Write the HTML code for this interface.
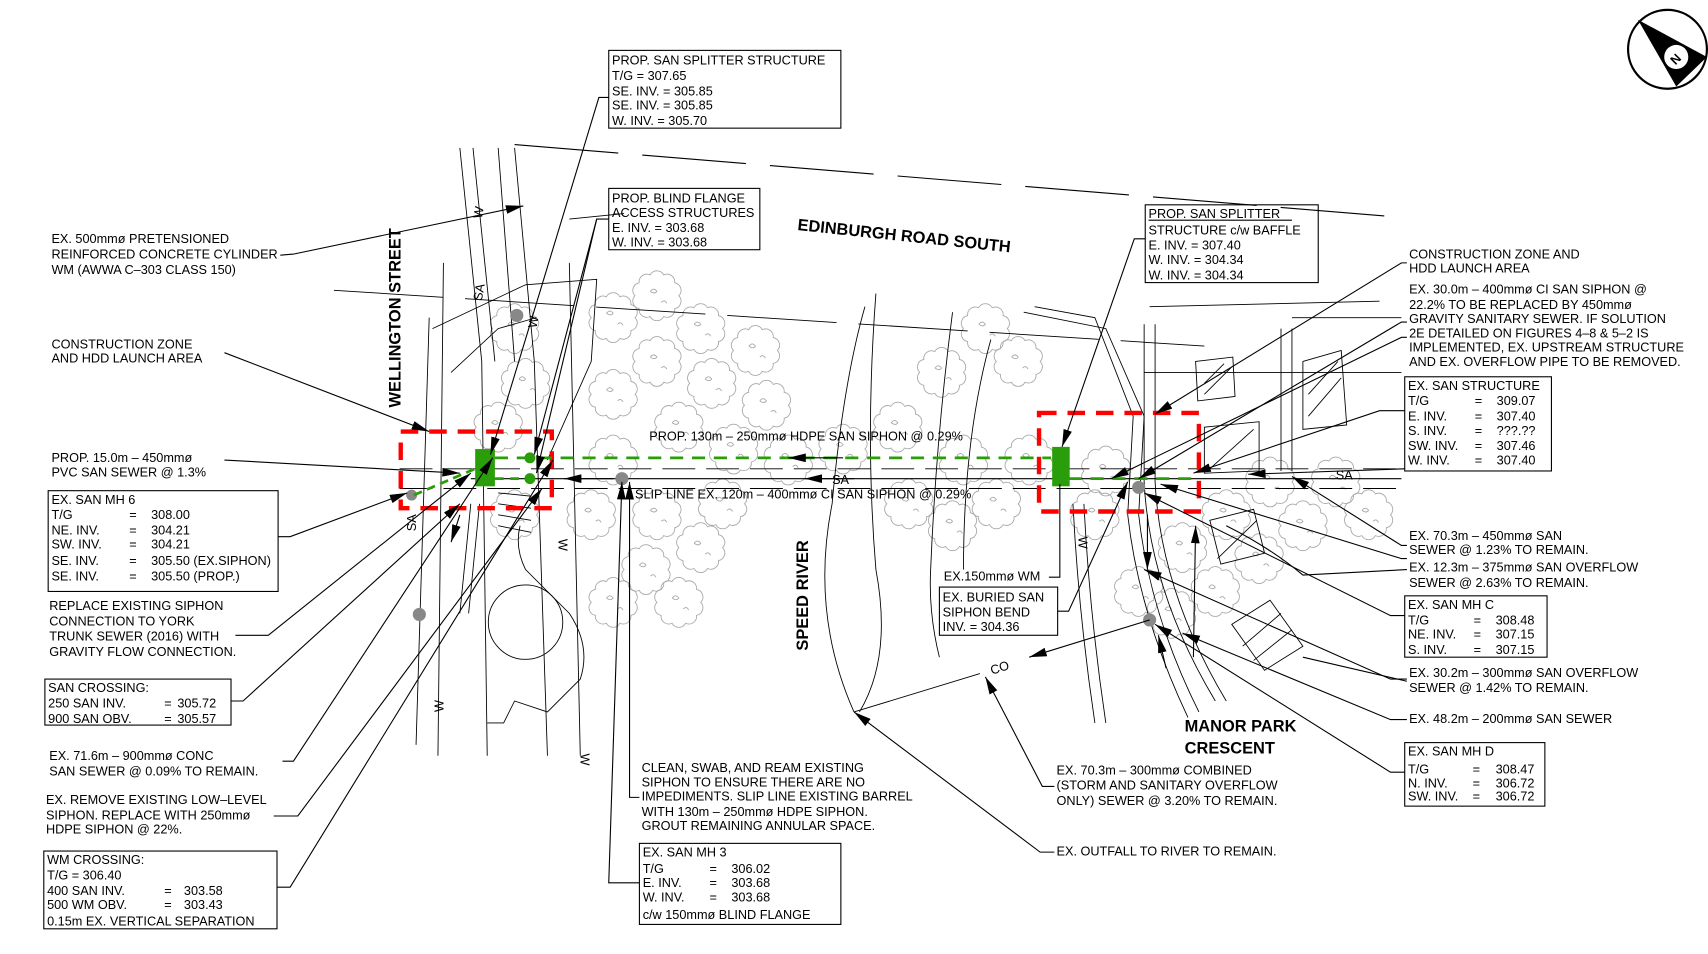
<!DOCTYPE html>
<html><head><meta charset="utf-8"><style>
html,body{margin:0;padding:0;background:#fff;}
svg{display:block;}
text{font-family:"Liberation Sans",sans-serif;font-size:11.6px;fill:#000;}
.b{font-weight:bold;font-size:15px;}
.t{fill:none;stroke:#a8a8a8;stroke-width:0.8;}
.l{fill:none;stroke:#000;stroke-width:1;}
.g{fill:none;stroke:#000;stroke-width:0.8;}
</style></head><body>
<svg width="1708" height="954" viewBox="0 0 1560 871" preserveAspectRatio="none" xmlns="http://www.w3.org/2000/svg">
<defs>
<marker id="a" viewBox="0 0 16 8" refX="16" refY="4" markerWidth="16" markerHeight="8" markerUnits="userSpaceOnUse" orient="auto"><path d="M0,0 L16,4 L0,8 Z" fill="#000"/></marker>
<g id="tr" class="t"><path d="M20,0 A7,7 0 0 1 16.2,11.8 A7,7 0 0 1 6.2,19 A7,7 0 0 1 -6.2,19 A7,7 0 0 1 -16.2,11.8 A7,7 0 0 1 -20,0 A7,7 0 0 1 -16.2,-11.8 A7,7 0 0 1 -6.2,-19 A7,7 0 0 1 6.2,-19 A7,7 0 0 1 16.2,-11.8 A7,7 0 0 1 20,0 Z"/><path d="M-6,-4 q3,-4 6,0 q-2,3 -6,0 M4,6 q3,-3 5,1"/></g>
</defs>
<rect width="1560" height="871" fill="#fff"/>

<!-- trees -->
<g>
<use href="#tr" x="470" y="300"/><use href="#tr" x="480" y="350"/><use href="#tr" x="455" y="390"/>
<use href="#tr" x="560" y="290"/><use href="#tr" x="600" y="270"/><use href="#tr" x="640" y="300"/><use href="#tr" x="600" y="330"/>
<use href="#tr" x="560" y="360"/><use href="#tr" x="650" y="350"/><use href="#tr" x="690" y="320"/><use href="#tr" x="700" y="370"/>
<use href="#tr" x="620" y="390"/><use href="#tr" x="670" y="410"/><use href="#tr" x="560" y="420"/><use href="#tr" x="540" y="470"/>
<use href="#tr" x="600" y="470"/><use href="#tr" x="640" y="500"/><use href="#tr" x="590" y="520"/><use href="#tr" x="620" y="550"/>
<use href="#tr" x="560" y="550"/><use href="#tr" x="660" y="460"/><use href="#tr" x="720" y="420"/><use href="#tr" x="770" y="410"/>
<use href="#tr" x="820" y="390"/><use href="#tr" x="860" y="340"/><use href="#tr" x="900" y="300"/><use href="#tr" x="930" y="330"/>
<use href="#tr" x="880" y="420"/><use href="#tr" x="830" y="460"/><use href="#tr" x="870" y="480"/><use href="#tr" x="910" y="460"/>
<use href="#tr" x="940" y="420"/><use href="#tr" x="1010" y="430"/><use href="#tr" x="1000" y="470"/>
<use href="#tr" x="1120" y="470"/><use href="#tr" x="1160" y="440"/><use href="#tr" x="1190" y="480"/><use href="#tr" x="1220" y="440"/>
<use href="#tr" x="1250" y="470"/><use href="#tr" x="1150" y="510"/><use href="#tr" x="1080" y="500"/><use href="#tr" x="1070" y="560"/>
<use href="#tr" x="1040" y="540"/><use href="#tr" x="470" y="470"/><use href="#tr" x="1110" y="540"/>
</g>

<!-- road dashed edges -->
<path class="l" d="M470,132 L1275,198" stroke-dasharray="95,22"/>
<path class="g" d="M305,265 L1100,316" stroke-dasharray="100,20"/>
<!-- river banks -->
<path class="g" d="M790,280 Q770,350 760,460 Q740,560 780,650"/>
<path class="g" d="M800,268 Q790,400 800,520 Q815,600 785,650"/>
<path class="g" d="M870,285 Q855,400 850,520 Q848,560 858,600"/>
<path class="g" d="M905,310 Q880,400 880,520"/>
<!-- east curb lines -->
<path class="g" d="M935,285 L1010,300 L1045,380 L1040,470 Q1050,560 1095,650"/>
<path class="g" d="M945,280 L1000,290 L1035,380 L1030,470 Q1040,560 1085,655"/>
<path class="g" d="M1050,280 L1260,275"/>
<path class="g" d="M1045,296 L1045,440 Q1050,540 1110,640"/>
<path class="g" d="M1055,296 L1055,440 Q1060,540 1120,640"/>
<path class="g" d="M980,460 Q985,560 1000,660"/>
<path class="g" d="M990,460 Q995,560 1010,660"/>
<path class="g" d="M1045,340 L1280,340"/>
<path class="g" d="M1170,300 L1170,430"/><path class="g" d="M1180,300 L1180,430"/>
<path class="g" d="M1180,290 L1280,290"/>
<!-- hatched buildings -->
<g class="g"><path d="M1092,330 L1126,326 L1128,362 L1094,366 Z"/><path d="M1190,330 L1225,320 L1230,388 L1190,392 Z"/><path d="M1100,390 L1150,385 L1150,430 L1100,432 Z"/><path d="M1105,475 L1145,465 L1155,505 L1115,515 Z"/><path d="M1125,570 L1160,548 L1190,590 L1155,612 Z"/>
<path d="M1100,360 L1125,335 M1100,350 L1118,332 M1195,380 L1225,345 M1195,360 L1222,330 M1105,428 L1145,392 M1112,510 L1148,475 M1135,590 L1170,560 M1145,603 L1180,575"/></g>

<!-- west road lines -->
<g class="g">
<path d="M420,135 L440,330 L445,690"/><path d="M432,135 L452,330"/>
<path d="M455,135 L470,330"/><path d="M470,135 L488,330 L500,690"/>
<path d="M392,290 L380,680"/><path d="M405,240 L400,690"/>
<path d="M520,240 L530,690"/>
<path d="M395,300 L480,260 L545,255 L540,330 L500,420"/>
<path d="M412,340 L455,300 L490,290"/>
<path d="M475,480 Q470,500 480,520 L520,560 Q540,590 530,620 L500,650 L470,640 L460,660 L445,660"/>
<circle cx="480" cy="568" r="34"/>
<path d="M430,460 L420,560 M438,460 L428,560"/>
<path d="M455,450 L485,453 M455,460 L485,464 M455,470 L485,475 M455,480 L485,486"/>
<path d="M520,200 L570,195"/>
</g>
<path class="l" d="M268,232 L478,188" marker-end="url(#a)"/>

<!-- sewer lines -->
<path class="g" d="M365,428 L1280,428" stroke-dasharray="30,10"/>
<path class="l" d="M430,437 L1280,437"/>
<path class="g" d="M365,446 L1280,446" stroke-dasharray="30,10"/>
<text x="760" y="442" font-size="12">SA</text>
<text x="1220" y="438" font-size="12">SA</text>
<text x="440" y="200" transform="rotate(-80 440 200)" font-size="11">W</text>
<text x="490" y="300" transform="rotate(-80 490 300)" font-size="11">W</text>
<text x="440" y="275" transform="rotate(-80 440 275)" font-size="11">SA</text>
<text x="510" y="492" transform="rotate(90 510 492)" font-size="11">W</text>
<text x="530" y="688" transform="rotate(90 530 688)" font-size="11">W</text>
<text x="405" y="650" transform="rotate(-90 405 650)" font-size="11">W</text>
<text x="985" y="490" transform="rotate(90 985 490)" font-size="11">W</text>
<text x="380" y="485" transform="rotate(-90 380 485)" font-size="11">SA</text>

<!-- gray MH dots -->
<g fill="#888"><circle cx="472" cy="288" r="6"/><circle cx="568" cy="437" r="6"/><circle cx="383" cy="561" r="6"/><circle cx="376" cy="452" r="5"/><circle cx="1040" cy="445" r="6"/><circle cx="1050" cy="566" r="6"/></g>

<!-- red dashed zones -->
<rect x="366" y="394" width="138" height="70" fill="none" stroke="#f00" stroke-width="4" stroke-dasharray="16,10"/>
<rect x="949" y="377" width="146" height="90" fill="none" stroke="#f00" stroke-width="4" stroke-dasharray="16,10"/>

<!-- green -->
<path d="M452,418 L960,418" stroke="#2a9d0a" stroke-width="2.5" stroke-dasharray="12,8" fill="none"/>
<path d="M452,437 L484,437" stroke="#2a9d0a" stroke-width="2.5" stroke-dasharray="8,6" fill="none"/>
<path d="M378,452 L434,428" stroke="#2a9d0a" stroke-width="2.5" stroke-dasharray="8,5" fill="none"/>
<path d="M976,437 L1090,437" stroke="#2a9d0a" stroke-width="2.5" stroke-dasharray="12,8" fill="none"/>
<rect x="434" y="410" width="18" height="34" fill="#2a9d0a"/>
<rect x="961" y="408" width="16" height="36" fill="#2a9d0a"/>
<circle cx="484" cy="418" r="5" fill="#2a9d0a"/><circle cx="484" cy="437" r="5" fill="#2a9d0a"/>
<path class="l" d="M770,418 L720,418" marker-end="url(#a)"/>
<path class="l" d="M560,437 L515,437" marker-end="url(#a)"/>
<path class="l" d="M780,437 L735,437" marker-end="url(#a)"/>

<!-- compass -->
<circle cx="1523" cy="45" r="36" fill="#fff" stroke="#000" stroke-width="2"/>
<path d="M1496,18 L1559,52 L1531,79 Z" fill="#000"/>
<circle cx="1531" cy="52" r="11" fill="#fff"/>
<text x="1525" y="57" font-weight="bold" font-size="13" transform="rotate(-45 1531 52)">N</text>

<!-- Labels -->
<text class="b" x="728" y="210" transform="rotate(6 728 210)">EDINBURGH ROAD SOUTH</text>
<text class="b" x="366" y="372" transform="rotate(-90 366 372)">WELLINGTON STREET</text>
<text class="b" x="738" y="594" transform="rotate(-90 738 594)">SPEED RIVER</text>
<text class="b" x="1082" y="668">MANOR PARK</text>
<text class="b" x="1082" y="688">CRESCENT</text>
<text x="906" y="616" transform="rotate(-18 906 616)">CO</text>
<text x="593" y="402">PROP. 130m – 250mmø HDPE SAN SIPHON @ 0.29%</text>
<text x="580" y="455">SLIP LINE EX. 120m – 400mmø CI SAN SIPHON @ 0.29%</text>

<!-- top box -->
<rect x="556" y="46" width="212" height="71" class="l"/>
<text x="559" y="59">PROP. SAN SPLITTER STRUCTURE</text>
<text x="559" y="73">T/G = 307.65</text><text x="559" y="87">SE. INV. = 305.85</text>
<text x="559" y="100">SE. INV. = 305.85</text><text x="559" y="114">W. INV. = 305.70</text>
<path class="l" d="M556,89 L547,89 L448,415" marker-end="url(#a)"/>

<rect x="556" y="172" width="138" height="56" class="l"/>
<text x="559" y="185">PROP. BLIND FLANGE</text><text x="559" y="198">ACCESS STRUCTURES</text>
<text x="559" y="212">E. INV. = 303.68</text><text x="559" y="225">W. INV. = 303.68</text>
<path class="l" d="M556,200 L545,200 L488,415" marker-end="url(#a)"/>
<path class="l" d="M545,200 L490,432" marker-end="url(#a)"/>

<rect x="1046" y="187" width="158" height="71" class="l"/>
<text x="1049" y="199">PROP. SAN SPLITTER</text><path class="l" d="M1049,201 L1180,201"/>
<text x="1049" y="214">STRUCTURE c/w BAFFLE</text>
<text x="1049" y="228">E. INV. = 307.40</text><text x="1049" y="241">W. INV. = 304.34</text><text x="1049" y="255">W. INV. = 304.34</text>
<path class="l" d="M1046,218 L1036,218 L970,408" marker-end="url(#a)"/>

<!-- right column -->
<text x="1287" y="236">CONSTRUCTION ZONE AND</text><text x="1287" y="249">HDD LAUNCH AREA</text>
<path class="l" d="M1285,240 L1280,240 L1055,378" marker-end="url(#a)"/>
<text x="1287" y="268">EX. 30.0m – 400mmø CI SAN SIPHON @</text>
<text x="1287" y="282">22.2% TO BE REPLACED BY 450mmø</text>
<text x="1287" y="295">GRAVITY SANITARY SEWER. IF SOLUTION</text>
<text x="1287" y="308">2E DETAILED ON FIGURES 4–8 &amp; 5–2 IS</text>
<text x="1287" y="321">IMPLEMENTED, EX. UPSTREAM STRUCTURE</text>
<text x="1287" y="334">AND EX. OVERFLOW PIPE TO BE REMOVED.</text>
<path class="l" d="M1285,294 L1280,294 L1040,437" marker-end="url(#a)"/>
<path class="l" d="M1285,308 L1280,308 L1015,437" marker-end="url(#a)"/>

<rect x="1283" y="344" width="134" height="86" class="l"/>
<text x="1286" y="356">EX. SAN STRUCTURE</text>
<text x="1286" y="370">T/G</text><text x="1347" y="370">=</text><text x="1367" y="370">309.07</text>
<text x="1286" y="384">E. INV.</text><text x="1347" y="384">=</text><text x="1367" y="384">307.40</text>
<text x="1286" y="397">S. INV.</text><text x="1347" y="397">=</text><text x="1367" y="397">???.??</text>
<text x="1286" y="411">SW. INV.</text><text x="1347" y="411">=</text><text x="1367" y="411">307.46</text>
<text x="1286" y="424">W. INV.</text><text x="1347" y="424">=</text><text x="1367" y="424">307.40</text>
<path class="l" d="M1283,375 L1260,375 L1090,432" marker-end="url(#a)"/>
<path class="l" d="M1283,428 L1140,433" marker-end="url(#a)"/>

<text x="1287" y="493">EX.  70.3m – 450mmø SAN</text><text x="1287" y="506">SEWER @ 1.23% TO REMAIN.</text>
<path class="l" d="M1285,498 L1280,498 L1180,435" marker-end="url(#a)"/>
<text x="1287" y="522">EX. 12.3m – 375mmø SAN OVERFLOW</text><text x="1287" y="536">SEWER @ 2.63% TO REMAIN.</text>
<path class="l" d="M1285,510 L1280,510 L1060,442" marker-end="url(#a)"/>
<path class="l" d="M1285,520 L1190,525 Q1160,500 1120,480"/>

<rect x="1283" y="544" width="130" height="56" class="l"/>
<text x="1286" y="556">EX. SAN MH C</text>
<text x="1286" y="570">T/G</text><text x="1346" y="570">=</text><text x="1366" y="570">308.48</text>
<text x="1286" y="583">NE. INV.</text><text x="1346" y="583">=</text><text x="1366" y="583">307.15</text>
<text x="1286" y="597">S. INV.</text><text x="1346" y="597">=</text><text x="1366" y="597">307.15</text>
<path class="l" d="M1283,562 L1270,562 L1045,450" marker-end="url(#a)"/>

<text x="1287" y="618">EX. 30.2m – 300mmø SAN OVERFLOW</text><text x="1287" y="632">SEWER @ 1.42% TO REMAIN.</text>
<path class="l" d="M1285,620 L1270,620 L1045,520" marker-end="url(#a)"/>
<path class="l" d="M1285,622 L1190,600"/>
<text x="1287" y="660">EX. 48.2m – 200mmø SAN SEWER</text>
<path class="l" d="M1285,657 L1270,657 L1080,578" marker-end="url(#a)"/>

<rect x="1283" y="678" width="128" height="58" class="l"/>
<text x="1286" y="690">EX. SAN MH D</text>
<text x="1286" y="706">T/G</text><text x="1345" y="706">=</text><text x="1366" y="706">308.47</text>
<text x="1286" y="719">N. INV.</text><text x="1345" y="719">=</text><text x="1366" y="719">306.72</text>
<text x="1286" y="731">SW. INV.</text><text x="1345" y="731">=</text><text x="1366" y="731">306.72</text>
<path class="l" d="M1283,705 L1270,705 L1055,570" marker-end="url(#a)"/>
<path class="l" d="M1048,470 L1048,520" marker-end="url(#a)"/>
<path class="l" d="M1065,610 L1058,580" marker-end="url(#a)"/>
<path class="l" d="M1090,600 L1092,480" marker-end="url(#a)"/>

<!-- centre-bottom -->
<text x="862" y="530">EX.150mmø WM</text>
<path class="l" d="M958,527 L968,527 L968,442"/>
<rect x="858" y="536" width="108" height="44" class="l"/>
<text x="861" y="549">EX. BURIED SAN</text>
<text x="861" y="563">SIPHON BEND</text><text x="861" y="576">INV. = 304.36</text>
<path class="l" d="M966,558 L976,558 L1030,440" marker-end="url(#a)"/>
<path class="l" d="M1050,566 L940,600" marker-end="url(#a)"/>
<path class="g" d="M780,650 L895,615"/>

<text x="965" y="707">EX. 70.3m – 300mmø COMBINED</text>
<text x="965" y="721">(STORM AND SANITARY OVERFLOW</text>
<text x="965" y="735">ONLY) SEWER @ 3.20% TO REMAIN.</text>
<path class="l" d="M963,718 L952,718 L900,618" marker-end="url(#a)"/>
<text x="965" y="781">EX. OUTFALL TO RIVER TO REMAIN.</text>
<path class="l" d="M963,778 L950,778 L780,650" marker-end="url(#a)"/>

<text x="586" y="705">CLEAN, SWAB, AND REAM EXISTING</text>
<text x="586" y="718">SIPHON TO ENSURE THERE ARE NO</text>
<text x="586" y="731">IMPEDIMENTS. SLIP LINE EXISTING BARREL</text>
<text x="586" y="745">WITH 130m – 250mmø HDPE SIPHON.</text>
<text x="586" y="758">GROUT REMAINING ANNULAR SPACE.</text>
<path class="l" d="M584,728 L575,728 L575,440" marker-end="url(#a)"/>
<rect x="584" y="770" width="184" height="74" class="l"/>
<text x="587" y="782">EX. SAN MH 3</text>
<text x="587" y="797">T/G</text><text x="648" y="797">=</text><text x="668" y="797">306.02</text>
<text x="587" y="810">E. INV.</text><text x="648" y="810">=</text><text x="668" y="810">303.68</text>
<text x="587" y="823">W. INV.</text><text x="648" y="823">=</text><text x="668" y="823">303.68</text>
<text x="587" y="839">c/w 150mmø BLIND FLANGE</text>
<path class="l" d="M584,806 L556,806 L568,440" marker-end="url(#a)"/>

<!-- left column -->
<text x="47" y="222">EX. 500mmø PRETENSIONED</text>
<text x="47" y="236">REINFORCED CONCRETE CYLINDER</text>
<text x="47" y="250">WM (AWWA C–303 CLASS 150)</text>
<path class="l" d="M256,233 L268,232"/>
<text x="47" y="318">CONSTRUCTION ZONE</text><text x="47" y="331">AND HDD LAUNCH AREA</text>
<path class="l" d="M205,322 L392,394" marker-end="url(#a)"/>
<text x="47" y="422">PROP. 15.0m – 450mmø</text><text x="47" y="435">PVC SAN SEWER @ 1.3%</text>
<path class="l" d="M205,420 L420,432" marker-end="url(#a)"/>
<rect x="44" y="448" width="210" height="92" class="l"/>
<text x="47" y="460">EX. SAN MH 6</text>
<text x="47" y="474">T/G</text><text x="118" y="474">=</text><text x="138" y="474">308.00</text>
<text x="47" y="488">NE. INV.</text><text x="118" y="488">=</text><text x="138" y="488">304.21</text>
<text x="47" y="501">SW. INV.</text><text x="118" y="501">=</text><text x="138" y="501">304.21</text>
<text x="47" y="516">SE.  INV.</text><text x="118" y="516">=</text><text x="138" y="516">305.50 (EX.SIPHON)</text>
<text x="47" y="530">SE.  INV.</text><text x="118" y="530">=</text><text x="138" y="530">305.50 (PROP.)</text>
<path class="l" d="M254,490 L265,490 L372,450" marker-end="url(#a)"/>
<text x="45" y="557">REPLACE EXISTING SIPHON</text><text x="45" y="571">CONNECTION TO YORK</text>
<text x="45" y="585">TRUNK SEWER (2016) WITH</text><text x="45" y="599">GRAVITY FLOW CONNECTION.</text>
<path class="l" d="M215,580 L245,580 L430,432" marker-end="url(#a)"/>
<rect x="41" y="620" width="170" height="42" class="l"/>
<text x="44" y="632">SAN CROSSING:</text>
<text x="44" y="646">250 SAN INV.</text><text x="150" y="646">=</text><text x="162" y="646">305.72</text>
<text x="44" y="660">900 SAN OBV.</text><text x="150" y="660">=</text><text x="162" y="660">305.57</text>
<path class="l" d="M211,640 L222,640 L420,460" marker-end="url(#a)"/>
<text x="45" y="694">EX.  71.6m – 900mmø CONC</text><text x="45" y="708">SAN SEWER @ 0.09% TO REMAIN.</text>
<path class="l" d="M258,695 L268,695 L450,418" marker-end="url(#a)"/>
<text x="42" y="734">EX.  REMOVE EXISTING LOW–LEVEL</text>
<text x="42" y="748">SIPHON. REPLACE WITH 250mmø</text><text x="42" y="761">HDPE SIPHON @ 22%.</text>
<path class="l" d="M250,745 L272,745 L495,446" marker-end="url(#a)"/>
<rect x="40" y="777" width="213" height="71" class="l"/>
<text x="43" y="789">WM CROSSING:</text><text x="43" y="803">T/G = 306.40</text>
<text x="43" y="817">400 SAN INV.</text><text x="150" y="817">=</text><text x="168" y="817">303.58</text>
<text x="43" y="830">500 WM OBV.</text><text x="150" y="830">=</text><text x="168" y="830">303.43</text>
<text x="43" y="845">0.15m EX. VERTICAL SEPARATION</text>
<path class="l" d="M253,810 L265,810 L505,420" marker-end="url(#a)"/>
<path class="l" d="M420,470 L412,495" marker-end="url(#a)"/>
</svg>
</body></html>
